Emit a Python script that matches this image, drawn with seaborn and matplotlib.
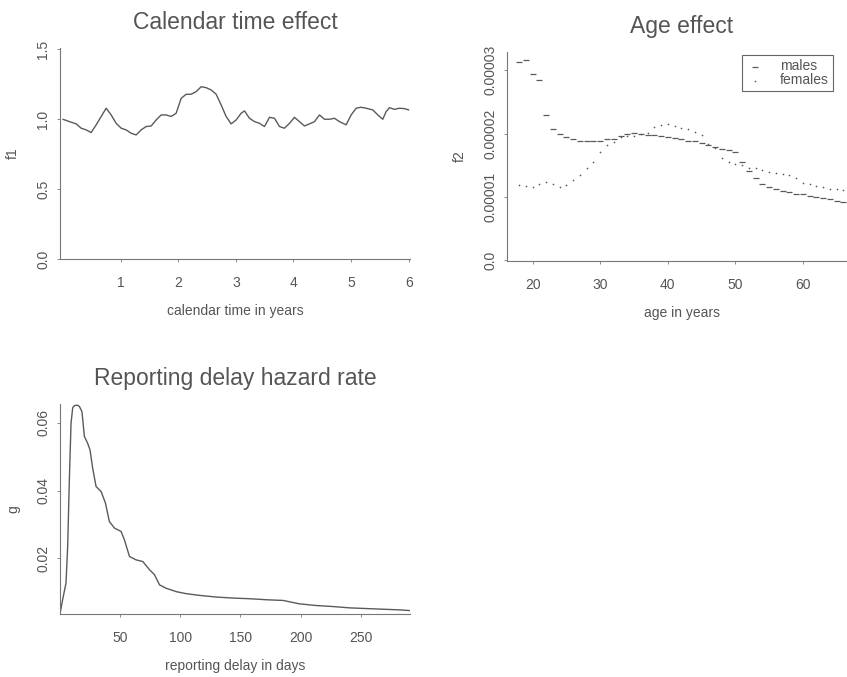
import matplotlib
matplotlib.use("Agg")
import matplotlib.pyplot as plt
import seaborn as sns

# calendar time effect (f1)
cal_year = [0.0, 0.116, 0.231, 0.318, 0.405, 0.491, 0.578, 0.665, 0.751, 0.838,
            0.925, 1.012, 1.098, 1.185, 1.272, 1.358, 1.445, 1.532, 1.618, 1.705,
            1.792, 1.879, 1.965, 2.052, 2.139, 2.225, 2.312, 2.399, 2.486, 2.572,
            2.659, 2.746, 2.832, 2.919, 3.006, 3.092, 3.150, 3.237, 3.324, 3.410,
            3.497, 3.584, 3.671, 3.757, 3.844, 3.931, 4.017, 4.104, 4.191, 4.277,
            4.364, 4.451, 4.538, 4.624, 4.711, 4.798, 4.913, 5.0, 5.087, 5.173,
            5.260, 5.376, 5.462, 5.549, 5.607, 5.665, 5.751, 5.838, 5.925, 6.0]
cal_f1 = [1.0, 0.983, 0.967, 0.936, 0.924, 0.905, 0.96, 1.02, 1.079, 1.031,
          0.971, 0.936, 0.924, 0.9, 0.888, 0.924, 0.948, 0.952, 0.995, 1.031,
          1.031, 1.02, 1.043, 1.15, 1.179, 1.179, 1.198, 1.233, 1.226, 1.21,
          1.179, 1.102, 1.02, 0.967, 0.995, 1.043, 1.06, 1.007, 0.983, 0.971,
          0.948, 1.014, 1.007, 0.948, 0.936, 0.971, 1.014, 0.983, 0.952, 0.967,
          0.983, 1.031, 1.0, 1.0, 1.007, 0.983, 0.96, 1.031, 1.079, 1.086,
          1.079, 1.067, 1.031, 1.0, 1.055, 1.083, 1.071, 1.079, 1.076, 1.067]

# age effect (f2)
age = list(range(18, 67))
f2_males = [3.13e-5, 3.16e-5, 2.94e-5, 2.84e-5, 2.29e-5, 2.07e-5, 1.99e-5, 1.95e-5, 1.92e-5, 1.89e-5,
            1.88e-5, 1.88e-5, 1.89e-5, 1.91e-5, 1.92e-5, 1.96e-5, 2.00e-5, 2.01e-5, 2.00e-5, 1.98e-5,
            1.97e-5, 1.96e-5, 1.95e-5, 1.93e-5, 1.91e-5, 1.89e-5, 1.88e-5, 1.85e-5, 1.82e-5, 1.79e-5,
            1.76e-5, 1.74e-5, 1.71e-5, 1.55e-5, 1.41e-5, 1.29e-5, 1.21e-5, 1.16e-5, 1.12e-5, 1.09e-5,
            1.08e-5, 1.05e-5, 1.04e-5, 1.01e-5, 1.00e-5, 0.98e-5, 0.96e-5, 0.93e-5, 0.91e-5]
f2_females = [1.18e-5, 1.17e-5, 1.15e-5, 1.21e-5, 1.24e-5, 1.21e-5, 1.16e-5, 1.18e-5, 1.26e-5, 1.34e-5,
              1.45e-5, 1.55e-5, 1.71e-5, 1.82e-5, 1.87e-5, 1.94e-5, 1.96e-5, 1.96e-5, 1.99e-5, 2.01e-5,
              2.11e-5, 2.13e-5, 2.15e-5, 2.12e-5, 2.09e-5, 2.08e-5, 2.03e-5, 1.97e-5, 1.84e-5, 1.77e-5,
              1.61e-5, 1.55e-5, 1.52e-5, 1.50e-5, 1.45e-5, 1.46e-5, 1.42e-5, 1.39e-5, 1.37e-5, 1.36e-5,
              1.35e-5, 1.29e-5, 1.22e-5, 1.20e-5, 1.17e-5, 1.15e-5, 1.13e-5, 1.12e-5, 1.11e-5]

# reporting delay hazard (g)
delay_days = [0, 2.2, 5, 6.4, 7.8, 9.2, 10.6, 12, 13.3, 14.7, 16.1, 18.3, 20.3, 23, 25, 27.2, 30,
              34.2, 37.8, 41.1, 45.3, 50.8, 53.6, 57.8, 63.3, 68.9, 74.4, 78.6, 82.8,
              88.3, 96.7, 105, 116, 130, 144, 158, 172, 185.6, 199, 213, 227, 241, 255,
              269, 283, 291]
g_rate = [0.0035, 0.0077, 0.0126, 0.0234, 0.0432, 0.0599, 0.0645, 0.0651, 0.0652, 0.0652, 0.0649,
          0.0633, 0.056, 0.054, 0.052, 0.0466, 0.0412, 0.0397, 0.0363, 0.0308, 0.0289, 0.0279,
          0.0254, 0.0205, 0.0195, 0.019, 0.0166, 0.0151, 0.0121, 0.0111, 0.0101, 0.0095,
          0.009, 0.0085, 0.0082, 0.008, 0.0077, 0.0075, 0.0065, 0.006, 0.0057, 0.0053,
          0.0051, 0.0049, 0.0047, 0.0045]

sns.set_style("ticks")
plt.rcParams["font.family"] = ["Liberation Sans", "DejaVu Sans"]
txt = "#555555"
ink = "#5a5a5a"
plt.rcParams.update({"text.color": txt, "axes.labelcolor": txt,
                     "xtick.color": "#777777", "ytick.color": "#777777",
                     "xtick.labelcolor": txt, "ytick.labelcolor": txt,
                     "axes.edgecolor": "#777777"})

fig = plt.figure(figsize=(8.47, 6.77), dpi=100)
ax1 = fig.add_axes([0.0708, 0.6174, 0.4132, 0.3117])
ax2 = fig.add_axes([0.5986, 0.6145, 0.4132, 0.3087])
ax3 = fig.add_axes([0.0708, 0.0931, 0.4132, 0.3102])

sns.lineplot(x=cal_year, y=cal_f1, ax=ax1, color=ink, linewidth=1.0)
ax1.set_xlim(-0.05, 6.02)
ax1.set_ylim(0, 1.51)
ax1.set_xticks([1, 2, 3, 4, 5, 6])
ax1.set_yticks([0.0, 0.5, 1.0, 1.5])
ax1.set_yticklabels(["0.0", "0.5", "1.0", "1.5"])
ax1.set_title("Calendar time effect", fontsize=16.5, pad=14, color=txt)
ax1.set_xlabel("calendar time in years", fontsize=10)
ax1.set_ylabel("f1", fontsize=10)

sns.scatterplot(x=age, y=f2_males, ax=ax2, marker="_", s=18, color=ink,
                linewidth=0.9, label="males")
sns.scatterplot(x=age, y=f2_females, ax=ax2, marker=".", s=6, color=ink,
                linewidth=0, label="females")
ax2.set_xlim(16.2, 68.0)
ax2.set_ylim(-0.015e-5, 3.29e-5)
ax2.set_xticks([20, 30, 40, 50, 60])
ax2.set_yticks([0, 1e-5, 2e-5, 3e-5])
ax2.set_yticklabels(["0.0", "0.00001", "0.00002", "0.00003"])
ax2.set_title("Age effect", fontsize=16.5, pad=14, color=txt)
ax2.set_xlabel("age in years", fontsize=10)
ax2.set_ylabel("f2", fontsize=10)
leg = ax2.legend(loc="upper right", bbox_to_anchor=(0.9645 * 338 / 350, 0.985),
                 borderaxespad=0, fancybox=False, fontsize=10, labelspacing=0.0,
                 handlelength=1.2, handletextpad=1.2, borderpad=0.3,
                 edgecolor="#666666", framealpha=1)
leg.get_frame().set_linewidth(0.8)

sns.lineplot(x=delay_days, y=g_rate, ax=ax3, color=ink, linewidth=1.0)
ax3.set_xlim(0, 291)
ax3.set_ylim(0.0035, 0.0656)
ax3.set_xticks([50, 100, 150, 200, 250])
ax3.set_yticks([0.02, 0.04, 0.06])
ax3.set_yticklabels(["0.02", "0.04", "0.06"])
ax3.set_title("Reporting delay hazard rate", fontsize=16.5, pad=14, color=txt)
ax3.set_xlabel("reporting delay in days", fontsize=10)
ax3.set_ylabel("g", fontsize=10)

for ax in (ax1, ax2, ax3):
    sns.despine(ax=ax)
    ax.spines["left"].set_linewidth(0.8)
    ax.spines["bottom"].set_linewidth(0.8)
    ax.tick_params(axis="both", length=2, width=0.6, labelsize=10)
    ax.tick_params(axis="x", pad=10)
    ax.tick_params(axis="y", pad=5, labelrotation=90)
    for lab in ax.get_yticklabels():
        lab.set_va("center")
    ax.yaxis.set_label_coords(-0.114, 0.5)
    ax.xaxis.set_label_coords(0.5, -0.213)

ax2.xaxis.set_label_coords(0.5, -0.215)

fig.savefig("out.png", dpi=100)
